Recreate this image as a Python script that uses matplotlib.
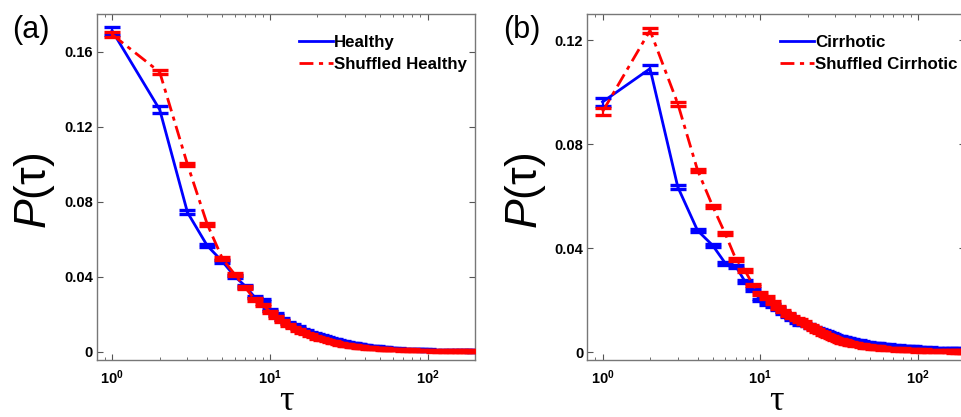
import numpy as np
import matplotlib
matplotlib.use("Agg")
import matplotlib.pyplot as plt
from matplotlib.ticker import FixedLocator, FuncFormatter, LogLocator, NullFormatter

plt.rcParams['font.family'] = ['Liberation Sans', 'DejaVu Sans']
plt.rcParams['mathtext.fontset'] = 'custom'
plt.rcParams['mathtext.rm'] = 'Liberation Sans'
plt.rcParams['mathtext.it'] = 'Liberation Sans:italic'
plt.rcParams['mathtext.bf'] = 'Liberation Sans:bold'

# interval lengths (tau)
tau = (list(range(1, 41)) + list(range(42, 61, 2))
       + list(range(65, 101, 5)) + list(range(110, 201, 10)))

# (a) healthy
p_healthy = [0.1710, 0.1290, 0.0742, 0.0565, 0.0480, 0.0400, 0.0348, 0.0290, 0.0275, 0.0222,
             0.0200, 0.0175, 0.0155, 0.0142, 0.0130, 0.0118, 0.0110, 0.0102, 0.0095, 0.0090,
             0.0084, 0.0079, 0.0074, 0.0070, 0.0066, 0.0062, 0.0058, 0.0055, 0.0052, 0.0049,
             0.0047, 0.0045, 0.0043, 0.0041, 0.0039, 0.0037, 0.0036, 0.0034, 0.0033, 0.0031,
             0.0029, 0.0027, 0.0025, 0.0024, 0.0022, 0.0021, 0.0019, 0.0018, 0.0017, 0.0016,
             0.0015, 0.0013, 0.0012, 0.0011, 0.0010, 0.0009, 0.0008, 0.0008,
             0.0007, 0.0006, 0.0006, 0.0005, 0.0005, 0.0004, 0.0004, 0.0004, 0.0003, 0.0003]
e_healthy = [0.0021, 0.0018, 0.0011, 0.0008, 0.0008, 0.0007, 0.0007, 0.0006, 0.0006, 0.0006,
             0.0005, 0.0005, 0.0005, 0.0005, 0.0005, 0.0004, 0.0004, 0.0004, 0.0004, 0.0004,
             0.0004, 0.0004, 0.0003, 0.0003, 0.0003, 0.0003, 0.0003, 0.0003, 0.0003, 0.0003,
             0.0003, 0.0003, 0.0003, 0.0003, 0.0003, 0.0003, 0.0003, 0.0003, 0.0003, 0.0003,
             0.0003, 0.0003, 0.0003, 0.0003, 0.0003, 0.0003, 0.0003, 0.0003, 0.0003, 0.0003,
             0.0003, 0.0003, 0.0003, 0.0003, 0.0003, 0.0003, 0.0003, 0.0003,
             0.0003, 0.0003, 0.0003, 0.0003, 0.0003, 0.0003, 0.0003, 0.0003, 0.0003, 0.0003]
p_shuf_healthy = [0.1690, 0.1490, 0.0998, 0.0680, 0.0495, 0.0410, 0.0340, 0.0278, 0.0250, 0.0212,
                  0.0185, 0.0162, 0.0143, 0.0128, 0.0115, 0.0104, 0.0095, 0.0087, 0.0080, 0.0073,
                  0.0068, 0.0063, 0.0058, 0.0054, 0.0050, 0.0047, 0.0044, 0.0041, 0.0038, 0.0036,
                  0.0034, 0.0032, 0.0030, 0.0029, 0.0027, 0.0026, 0.0025, 0.0023, 0.0022, 0.0021,
                  0.0020, 0.0018, 0.0017, 0.0016, 0.0015, 0.0014, 0.0013, 0.0012, 0.0011, 0.0011,
                  0.0010, 0.0009, 0.0008, 0.0007, 0.0006, 0.0006, 0.0005, 0.0005,
                  0.0004, 0.0004, 0.0003, 0.0003, 0.0003, 0.0002, 0.0002, 0.0002, 0.0002, 0.0001]
e_shuf_healthy = [0.0015, 0.0010, 0.0008, 0.0008, 0.0007, 0.0007, 0.0007, 0.0006, 0.0006, 0.0006,
                  0.0005, 0.0005, 0.0005, 0.0005, 0.0005, 0.0005, 0.0004, 0.0004, 0.0004, 0.0004,
                  0.0004, 0.0004, 0.0004, 0.0004, 0.0004, 0.0004, 0.0004, 0.0004, 0.0004, 0.0004,
                  0.0004, 0.0004, 0.0004, 0.0004, 0.0004, 0.0004, 0.0004, 0.0004, 0.0004, 0.0004,
                  0.0004, 0.0004, 0.0004, 0.0004, 0.0004, 0.0004, 0.0004, 0.0004, 0.0004, 0.0004,
                  0.0004, 0.0004, 0.0004, 0.0004, 0.0004, 0.0004, 0.0004, 0.0004,
                  0.0004, 0.0004, 0.0004, 0.0004, 0.0004, 0.0004, 0.0004, 0.0004, 0.0004, 0.0004]

# (b) cirrhotic
p_cirr = [0.0962, 0.1090, 0.0635, 0.0468, 0.0410, 0.0342, 0.0330, 0.0272, 0.0240, 0.0200,
          0.0188, 0.0180, 0.0168, 0.0150, 0.0140, 0.0128, 0.0118, 0.0110, 0.0108, 0.0105,
          0.0097, 0.0093, 0.0089, 0.0085, 0.0080, 0.0076, 0.0072, 0.0068, 0.0065, 0.0062,
          0.0059, 0.0057, 0.0055, 0.0053, 0.0051, 0.0049, 0.0047, 0.0046, 0.0044, 0.0043,
          0.0041, 0.0039, 0.0037, 0.0035, 0.0033, 0.0032, 0.0031, 0.0030, 0.0029, 0.0028,
          0.0026, 0.0024, 0.0022, 0.0021, 0.0020, 0.0019, 0.0018, 0.0017,
          0.0016, 0.0015, 0.0014, 0.0013, 0.0013, 0.0012, 0.0012, 0.0011, 0.0011, 0.0010]
e_cirr = [0.0016, 0.0015, 0.0008, 0.0007, 0.0007, 0.0006, 0.0006, 0.0006, 0.0006, 0.0005,
          0.0005, 0.0005, 0.0005, 0.0005, 0.0005, 0.0004, 0.0004, 0.0004, 0.0004, 0.0004,
          0.0004, 0.0004, 0.0004, 0.0004, 0.0004, 0.0004, 0.0004, 0.0004, 0.0004, 0.0004,
          0.0004, 0.0004, 0.0004, 0.0004, 0.0004, 0.0004, 0.0004, 0.0004, 0.0004, 0.0004,
          0.0004, 0.0004, 0.0004, 0.0004, 0.0004, 0.0004, 0.0004, 0.0004, 0.0004, 0.0004,
          0.0004, 0.0004, 0.0004, 0.0004, 0.0004, 0.0004, 0.0004, 0.0004,
          0.0004, 0.0004, 0.0004, 0.0004, 0.0004, 0.0004, 0.0004, 0.0004, 0.0004, 0.0004]
p_shuf_cirr = [0.0925, 0.1237, 0.0955, 0.0700, 0.0560, 0.0455, 0.0358, 0.0314, 0.0258, 0.0225,
               0.0210, 0.0190, 0.0172, 0.0158, 0.0145, 0.0135, 0.0128, 0.0122, 0.0115, 0.0105,
               0.0098, 0.0090, 0.0083, 0.0077, 0.0071, 0.0066, 0.0062, 0.0058, 0.0054, 0.0050,
               0.0047, 0.0044, 0.0042, 0.0040, 0.0038, 0.0036, 0.0034, 0.0032, 0.0031, 0.0029,
               0.0027, 0.0025, 0.0023, 0.0022, 0.0020, 0.0019, 0.0018, 0.0017, 0.0016, 0.0015,
               0.0013, 0.0012, 0.0011, 0.0010, 0.0009, 0.0008, 0.0008, 0.0007,
               0.0006, 0.0005, 0.0005, 0.0004, 0.0004, 0.0004, 0.0003, 0.0003, 0.0003, 0.0003]
e_shuf_cirr = [0.0014, 0.0010, 0.0007, 0.0006, 0.0006, 0.0006, 0.0006, 0.0006, 0.0005, 0.0005,
               0.0005, 0.0005, 0.0005, 0.0005, 0.0005, 0.0005, 0.0005, 0.0005, 0.0005, 0.0005,
               0.0005, 0.0005, 0.0005, 0.0005, 0.0005, 0.0005, 0.0005, 0.0005, 0.0005, 0.0005,
               0.0005, 0.0005, 0.0005, 0.0005, 0.0005, 0.0005, 0.0005, 0.0005, 0.0005, 0.0005,
               0.0005, 0.0005, 0.0005, 0.0005, 0.0005, 0.0005, 0.0005, 0.0005, 0.0005, 0.0005,
               0.0005, 0.0005, 0.0005, 0.0005, 0.0005, 0.0005, 0.0005, 0.0005,
               0.0005, 0.0005, 0.0005, 0.0005, 0.0005, 0.0005, 0.0005, 0.0005, 0.0005, 0.0005]

yticks_a = [0, 0.04, 0.08, 0.12, 0.16]
yticks_b = [0, 0.04, 0.08, 0.12]
BLUE = '#0000ff'
RED = '#ff0000'


def ytick_fmt(v, pos):
    return '0' if v == 0 else ('%.2f' % v)


def draw(ax, yb, eb, yr, er, names, ylim, yticks, tag):
    ax.errorbar(tau, yb, yerr=eb, fmt='none', ecolor=BLUE, elinewidth=1.6,
                capsize=6, capthick=2.4, zorder=2)
    ax.plot(tau, yb, color=BLUE, lw=2.0, label=names[0], zorder=2)
    ax.errorbar(tau, yr, yerr=er, fmt='none', ecolor=RED, elinewidth=1.6,
                capsize=6, capthick=2.4, zorder=3)
    ax.plot(tau, yr, color=RED, lw=2.0, ls=(0, (5, 2, 1.5, 2)), label=names[1], zorder=3)

    ax.set_xscale('log')
    ax.set_xlim(0.8, 200)
    ax.set_ylim(*ylim)
    ax.xaxis.set_major_locator(LogLocator(base=10))
    ax.xaxis.set_minor_locator(LogLocator(base=10, subs=np.arange(2, 10)))
    ax.xaxis.set_minor_formatter(NullFormatter())
    ax.xaxis.set_major_formatter(FuncFormatter(
        lambda v, p: r'$\mathbf{10^{%d}}$' % int(round(np.log10(v)))))
    ax.yaxis.set_major_locator(FixedLocator(yticks))
    ax.yaxis.set_major_formatter(FuncFormatter(ytick_fmt))
    ax.tick_params(which='both', direction='in', top=True, right=True, color='#555555')
    ax.tick_params(which='major', length=4, width=0.8, labelsize=10.5, pad=3)
    ax.tick_params(which='minor', length=2, width=0.6)
    ax.tick_params(axis='x', pad=6)
    for lbl in ax.get_yticklabels() + ax.get_xticklabels():
        lbl.set_fontweight('bold')
    for s in ax.spines.values():
        s.set_color('#777777')
        s.set_linewidth(1.0)

    ax.set_ylabel(r'$P(\mathrm{\tau})$', fontsize=32)
    ax.yaxis.set_label_coords(-0.105, 0.49)
    ax.set_xlabel('τ', fontsize=26, family=['Liberation Serif', 'DejaVu Serif'])
    ax.xaxis.set_label_coords(0.5, -0.072)

    ax.legend(loc='upper right', bbox_to_anchor=(1.01, 0.975), frameon=False,
              handlelength=2.0, handletextpad=0.05, labelspacing=0.42,
              borderaxespad=0.3, prop={'weight': 'bold', 'size': 12.2})
    ax.figure.text(ax.get_position().x0 - 0.088, 0.965, tag, fontsize=22,
                   ha='left', va='top')


fig = plt.figure(figsize=(9.62, 4.17), dpi=100)
ax_a = fig.add_axes([0.1008, 0.1367, 0.393, 0.8297])
ax_b = fig.add_axes([0.6105, 0.1367, 0.393, 0.8297])

draw(ax_a, p_healthy, e_healthy, p_shuf_healthy, e_shuf_healthy,
     ['Healthy', 'Shuffled Healthy'], (-0.0045, 0.18), yticks_a, '(a)')
draw(ax_b, p_cirr, e_cirr, p_shuf_cirr, e_shuf_cirr,
     ['Cirrhotic', 'Shuffled Cirrhotic'], (-0.003, 0.13), yticks_b, '(b)')

fig.savefig('out.png', dpi=100)
